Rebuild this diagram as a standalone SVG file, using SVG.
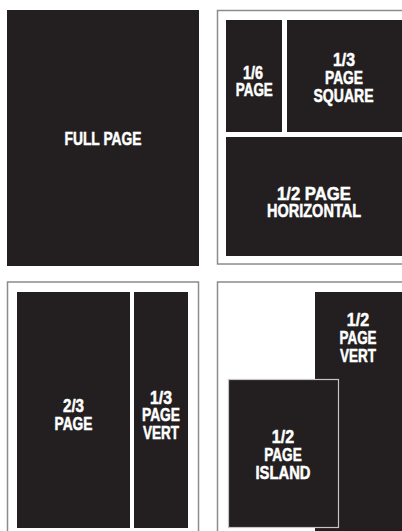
<svg xmlns="http://www.w3.org/2000/svg" width="402" height="531" viewBox="0 0 402 531">
<style>
.bg{fill:#ffffff}
.blk{fill:#231f20}
.frame{fill:none;stroke:#8c8c8c;stroke-width:1.5}
.isl{fill:#231f20;stroke:#c4c4c4;stroke-width:1.2}
.t{font-family:"Liberation Sans",Arial,sans-serif;font-weight:bold;font-size:18.5px;fill:#ffffff;stroke:#ffffff;stroke-width:0.5;text-anchor:middle}
</style>
<rect class="bg" x="0" y="0" width="402" height="531"/>
<g id="full-page">
<rect class="blk" x="7" y="10" width="192" height="256"/>
<text class="t" x="103" y="144.5" textLength="77" lengthAdjust="spacingAndGlyphs">FULL PAGE</text>
</g>
<g id="frame-top-right">
<rect class="frame" x="217.5" y="10.5" width="200" height="253.5"/>
</g>
<g id="sixth-page">
<rect class="blk" x="226" y="20" width="56" height="112"/>
<text class="t" x="253" y="79" textLength="20" lengthAdjust="spacingAndGlyphs">1/6</text>
<text class="t" x="254.3" y="96" textLength="37" lengthAdjust="spacingAndGlyphs">PAGE</text>
</g>
<g id="third-page-square">
<rect class="blk" x="287" y="20" width="115" height="112"/>
<text class="t" x="344" y="66" textLength="22" lengthAdjust="spacingAndGlyphs">1/3</text>
<text class="t" x="344" y="84" textLength="38" lengthAdjust="spacingAndGlyphs">PAGE</text>
<text class="t" x="343.5" y="101.5" textLength="60" lengthAdjust="spacingAndGlyphs">SQUARE</text>
</g>
<g id="half-page-horizontal">
<rect class="blk" x="226" y="137" width="176" height="119"/>
<text class="t" x="314" y="199.5" textLength="74" lengthAdjust="spacingAndGlyphs">1/2 PAGE</text>
<text class="t" x="314" y="217" textLength="94" lengthAdjust="spacingAndGlyphs">HORIZONTAL</text>
</g>
<g id="frame-bottom-left">
<rect class="frame" x="7.5" y="282" width="191" height="260"/>
</g>
<g id="two-thirds-page">
<rect class="blk" x="17" y="292" width="113" height="236"/>
<text class="t" x="73.5" y="412" textLength="21" lengthAdjust="spacingAndGlyphs">2/3</text>
<text class="t" x="73.5" y="429.5" textLength="38" lengthAdjust="spacingAndGlyphs">PAGE</text>
</g>
<g id="third-page-vert">
<rect class="blk" x="134" y="292" width="54" height="236"/>
<text class="t" x="161" y="403.5" textLength="22" lengthAdjust="spacingAndGlyphs">1/3</text>
<text class="t" x="161" y="421" textLength="38" lengthAdjust="spacingAndGlyphs">PAGE</text>
<text class="t" x="161" y="438.5" textLength="36" lengthAdjust="spacingAndGlyphs">VERT</text>
</g>
<g id="frame-bottom-right">
<rect class="frame" x="217.5" y="282" width="200" height="260"/>
</g>
<g id="half-page-vert">
<rect class="blk" x="315" y="292" width="87" height="239"/>
<text class="t" x="358" y="325.7" textLength="22.3" lengthAdjust="spacingAndGlyphs">1/2</text>
<text class="t" x="358" y="344" textLength="37" lengthAdjust="spacingAndGlyphs">PAGE</text>
<text class="t" x="358" y="362.3" textLength="36" lengthAdjust="spacingAndGlyphs">VERT</text>
</g>
<g id="half-page-island">
<rect class="isl" x="228.5" y="379.5" width="110" height="148"/>
<text class="t" x="283" y="442.7" textLength="22.3" lengthAdjust="spacingAndGlyphs">1/2</text>
<text class="t" x="283" y="461" textLength="37.5" lengthAdjust="spacingAndGlyphs">PAGE</text>
<text class="t" x="283" y="479.3" textLength="55" lengthAdjust="spacingAndGlyphs">ISLAND</text>
</g>
</svg>
